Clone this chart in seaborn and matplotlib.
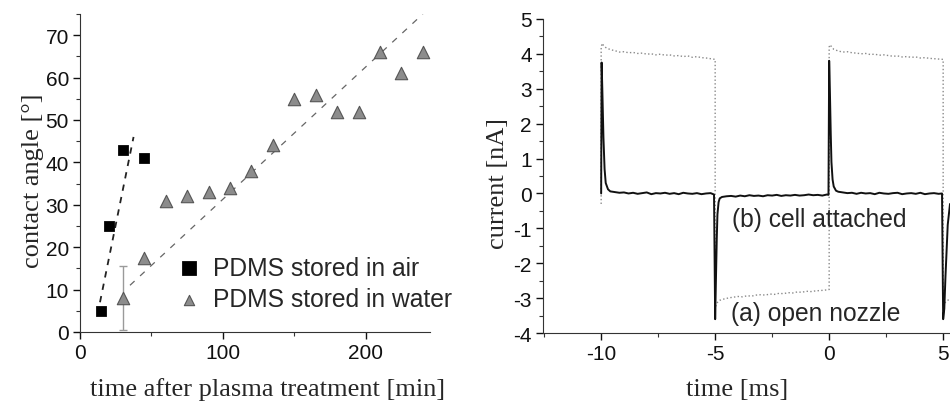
import pandas as pd
import matplotlib
matplotlib.use('Agg')
import matplotlib.pyplot as plt
import seaborn as sns
from matplotlib.ticker import MultipleLocator

# ---- left panel data: contact angle vs time after plasma treatment ----
air_time = [15, 20, 30, 45]
air_angle = [5, 25, 43, 41]
water_time = [30, 45, 60, 75, 90, 105, 120, 135, 150, 165, 180, 195, 210, 225, 240]
water_angle = [8, 17.5, 31, 32, 33, 34, 38, 44, 55, 56, 52, 52, 66, 61, 66]
water_err_time = [30]
water_err_angle = [8]
water_err = [7.5]
# fitted lines (end points)
air_fit_time = [14, 37.5]
air_fit_angle = [7, 46]
water_fit_time = [35, 240]
water_fit_angle = [11, 75]

# ---- right panel data: current traces ----
# (a) open nozzle, grey dotted
open_t = [-10.00, -10.00, -9.95, -9.90, -9.80,
          -9.60, -9.40, -9.20, -9.00, -8.80, -8.60, -8.40, -8.20, -8.00, -7.80, -7.60, -7.40,
          -7.20, -7.00, -6.80, -6.60, -6.40, -6.20, -6.00, -5.80, -5.60, -5.40, -5.20, -5.00,
          -5.00, -4.95, -4.90, -4.80,
          -4.60, -4.40, -4.20, -4.00, -3.80, -3.60, -3.40, -3.20, -3.00, -2.80, -2.60, -2.40,
          -2.20, -2.00, -1.80, -1.60, -1.40, -1.20, -1.00, -0.80, -0.60, -0.40, -0.20, 0.00,
          0.00, 0.05, 0.10, 0.20,
          0.40, 0.60, 0.80, 1.00, 1.20, 1.40, 1.60, 1.80, 2.00, 2.20, 2.40, 2.60,
          2.80, 3.00, 3.20, 3.40, 3.60, 3.80, 4.00, 4.20, 4.40, 4.60, 4.80, 5.00,
          5.00, 5.05, 5.15, 5.30]
open_i = [-0.30, 4.20, 4.30, 4.24, 4.18,
          4.12, 4.09, 4.05, 4.06, 4.03, 4.04, 4.01, 4.02, 3.99, 4.00, 3.97, 3.99,
          3.96, 3.97, 3.94, 3.95, 3.92, 3.94, 3.90, 3.92, 3.89, 3.88, 3.86, 3.84,
          -3.25, -3.20, -3.12, -3.06,
          -3.02, -2.99, -2.97, -2.95, -2.96, -2.93, -2.94, -2.91, -2.90, -2.91, -2.88, -2.89,
          -2.86, -2.87, -2.84, -2.85, -2.82, -2.83, -2.80, -2.81, -2.79, -2.78, -2.77, -2.75,
          4.20, 4.26, 4.20, 4.13,
          4.08, 4.05, 4.06, 4.03, 4.02, 4.00, 4.01, 3.98, 3.99, 3.96, 3.97, 3.95,
          3.93, 3.94, 3.91, 3.92, 3.90, 3.91, 3.88, 3.89, 3.87, 3.86, 3.85, 3.84,
          -3.20, -3.15, -3.08, -3.02]

# (b) cell attached, black
cell_t = [-10.00, -9.98, -9.95, -9.90, -9.85, -9.80, -9.70, -9.60,
          -9.40, -9.20, -9.00, -8.80, -8.60, -8.40, -8.20, -8.00, -7.80, -7.60, -7.40, -7.20,
          -7.00, -6.80, -6.60, -6.40, -6.20, -6.00, -5.80, -5.60, -5.40, -5.20, -5.05,
          -5.00, -4.97, -4.93, -4.90, -4.85, -4.80, -4.70,
          -4.50, -4.30, -4.10, -3.90, -3.70, -3.50, -3.30, -3.10, -2.90, -2.70, -2.50, -2.30,
          -2.10, -1.90, -1.70, -1.50, -1.30, -1.10, -0.90, -0.70, -0.50, -0.30, -0.10, -0.03,
          0.00, 0.03, 0.07, 0.10, 0.15, 0.20, 0.30, 0.40,
          0.60, 0.80, 1.00, 1.20, 1.40, 1.60, 1.80, 2.00, 2.20, 2.40, 2.60, 2.80,
          3.00, 3.20, 3.40, 3.60, 3.80, 4.00, 4.20, 4.40, 4.60, 4.80, 4.95,
          5.00, 5.05, 5.10, 5.20, 5.30]
cell_i = [0.00, 3.75, 3.00, 1.60, 0.70, 0.30, 0.12, 0.06,
          0.04, 0.02, 0.03, 0.00, 0.02, -0.01, 0.01, 0.03, -0.02, 0.01, 0.00, 0.02,
          -0.01, 0.01, -0.02, 0.02, 0.00, -0.01, 0.01, -0.02, 0.00, 0.01, -0.03,
          -3.60, -2.60, -1.30, -0.60, -0.25, -0.14, -0.10,
          -0.08, -0.07, -0.09, -0.06, -0.08, -0.05, -0.07, -0.06, -0.08, -0.05, -0.06, -0.04,
          -0.07, -0.05, -0.06, -0.04, -0.06, -0.05, -0.03, -0.05, -0.04, -0.06, -0.03, -0.04,
          3.80, 3.00, 1.70, 0.90, 0.40, 0.20, 0.08, 0.05,
          0.03, 0.01, 0.02, -0.01, 0.02, 0.00, 0.01, -0.02, 0.02, 0.00, -0.01, 0.01,
          0.02, -0.02, 0.00, 0.01, -0.01, 0.02, -0.02, 0.00, 0.01, -0.01, 0.00,
          -3.60, -3.30, -2.40, -0.90, -0.30]

open_df = pd.DataFrame({'t': open_t, 'i': open_i})
cell_df = pd.DataFrame({'t': cell_t, 'i': cell_i})
air_df = pd.DataFrame({'time': air_time, 'angle': air_angle})
water_df = pd.DataFrame({'time': water_time, 'angle': water_angle})

sns.set_style('ticks')
plt.rcParams['font.family'] = ['Liberation Sans', 'DejaVu Sans']
plt.rcParams['axes.unicode_minus'] = False
plt.rcParams['xtick.direction'] = 'out'
plt.rcParams['ytick.direction'] = 'out'

serif = ['Liberation Serif', 'DejaVu Serif']
tick_fs = 15
label_fs = 19
text_fs = 17.7

fig = plt.figure(figsize=(9.5, 4.06), dpi=100)
ax1 = fig.add_axes([0.0842, 0.180, 0.3684, 0.783])
ax2 = fig.add_axes([0.5716, 0.177, 0.4284, 0.774])

# ---- left panel ----
ax1.plot(air_fit_time, air_fit_angle, color='#222222', lw=1.3, dashes=(3.5, 3.5))
ax1.plot(water_fit_time, water_fit_angle, color='#666666', lw=0.9, dashes=(5, 6))
ax1.errorbar(water_err_time, water_err_angle, yerr=water_err, fmt='none',
             ecolor='#9a9a9a', elinewidth=1.0, capsize=3, capthick=1.0)
sns.scatterplot(data=air_df, x='time', y='angle', ax=ax1, marker='s', s=50,
                color='black', edgecolor='black', label='PDMS stored in air', zorder=3)
sns.scatterplot(data=water_df, x='time', y='angle', ax=ax1, marker='^', s=80,
                color='#8c8c8c', edgecolor='#555555', linewidth=0.8,
                label='PDMS stored in water', zorder=3)

ax1.set_xlim(0, 245)
ax1.set_ylim(0, 75)
ax1.xaxis.set_major_locator(MultipleLocator(100))
ax1.xaxis.set_minor_locator(MultipleLocator(50))
ax1.yaxis.set_major_locator(MultipleLocator(10))
ax1.yaxis.set_minor_locator(MultipleLocator(5))
ax1.set_xlabel('time after plasma treatment [min]', fontsize=label_fs, family=serif)
ax1.set_ylabel('contact angle [°]', fontsize=label_fs, family=serif, labelpad=1)
ax1.xaxis.set_label_coords(0.537, -0.143)
ax1.yaxis.get_label().set_y(0.48)
leg = ax1.legend(loc='lower left', bbox_to_anchor=(0.24, 0.065), frameon=False,
                 fontsize=text_fs, handletextpad=0.0, labelspacing=0.3,
                 borderpad=0, borderaxespad=0)
leg.legend_handles[0].set_sizes([95])
leg.legend_handles[1].set_sizes([55])

# ---- right panel ----
sns.lineplot(data=open_df, x='t', y='i', ax=ax2, sort=False, estimator=None,
             color='#8a8a8a', lw=1.0, linestyle=':')
sns.lineplot(data=cell_df, x='t', y='i', ax=ax2, sort=False, estimator=None,
             color='#111111', lw=1.4)
ax2.text(-4.25, -0.72, '(b) cell attached', fontsize=text_fs, va='center', ha='left')
ax2.text(-4.3, -3.43, '(a) open nozzle', fontsize=text_fs, va='center', ha='left')

ax2.set_xlim(-12.55, 5.3)
ax2.set_ylim(-4, 5)
ax2.xaxis.set_major_locator(MultipleLocator(5))
ax2.xaxis.set_minor_locator(MultipleLocator(2.5))
ax2.yaxis.set_major_locator(MultipleLocator(1))
ax2.yaxis.set_minor_locator(MultipleLocator(0.5))
ax2.set_xlabel('time [ms]', fontsize=label_fs, family=serif)
ax2.set_ylabel('current [nA]', fontsize=label_fs, family=serif, labelpad=3)
ax2.xaxis.set_label_coords(0.477, -0.143)
ax2.yaxis.get_label().set_y(0.48)

for ax in (ax1, ax2):
    sns.despine(ax=ax)
    ax.spines['left'].set_color('#333333')
    ax.spines['bottom'].set_color('#333333')
    ax.tick_params(which='major', length=5, width=1, labelsize=tick_fs, colors='#111111', pad=3)
    ax.tick_params(which='minor', length=3, width=0.8, colors='#333333')

fig.savefig('out.png', dpi=100)
